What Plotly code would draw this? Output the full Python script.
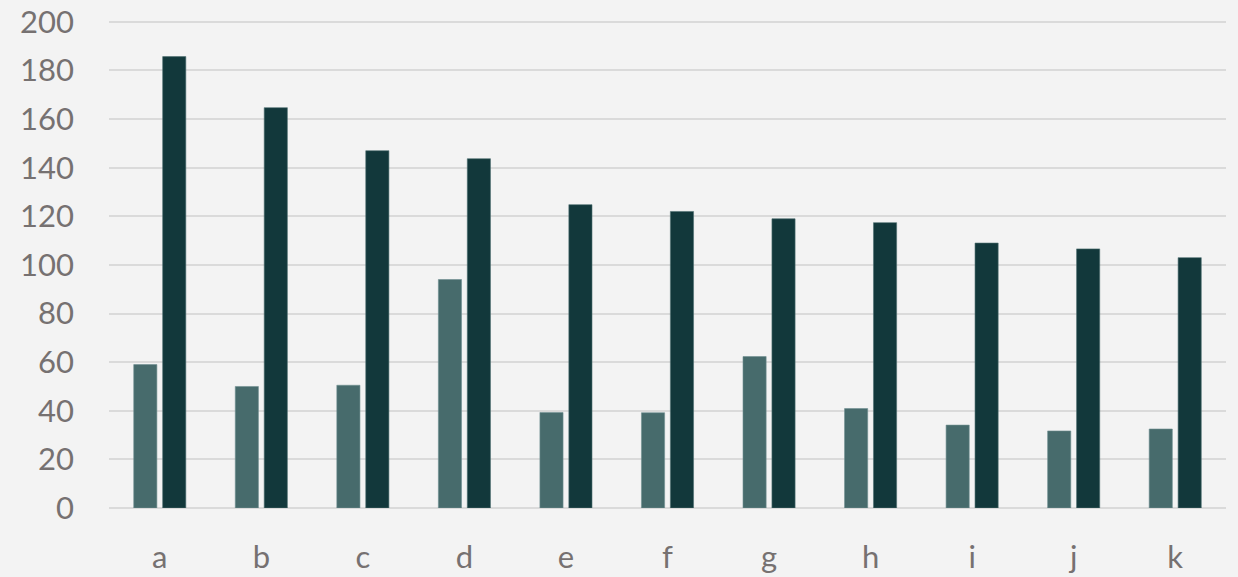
import plotly.graph_objects as go

categories = ["a", "b", "c", "d", "e", "f", "g", "h", "i", "j", "k"]
series_light = [59, 50, 50.5, 94, 39.3, 39.2, 62.3, 40.9, 34.1, 31.7, 32.5]
series_dark = [185.7, 164.7, 147, 143.7, 124.8, 122, 119, 117.4, 109, 106.6, 103]
y_ticks = [0, 20, 40, 60, 80, 100, 120, 140, 160, 180, 200]

LIGHT = "#476b6c"
DARK = "#12383b"
GRID = "#dadada"
TEXT = "#767171"

fig = go.Figure()
fig.add_trace(go.Bar(x=categories, y=series_light, name="Series 1",
                     marker=dict(color=LIGHT, line=dict(color="#6f8f90", width=0.6))))
fig.add_trace(go.Bar(x=categories, y=series_dark, name="Series 2",
                     marker=dict(color=DARK, line=dict(color="#4d6f71", width=0.6))))

fig.update_layout(
    width=1238, height=577,
    margin=dict(l=109, r=12, t=17, b=69),
    paper_bgcolor="#f3f3f3",
    plot_bgcolor="rgba(0,0,0,0)",
    barmode="group",
    bargap=0.43,
    bargroupgap=0.2,
    showlegend=False,
    font=dict(family="Lato, 'Open Sans', sans-serif", size=31, color=TEXT),
)
fig.update_yaxes(
    range=[0, 202], tickvals=y_ticks, showgrid=True, gridcolor=GRID, gridwidth=2,
    zeroline=True, zerolinecolor=GRID, zerolinewidth=2, showline=False,
    ticks="", ticklabelstandoff=34, automargin=False,
    tickfont=dict(size=31, color=TEXT),
)
fig.update_xaxes(
    showgrid=False, showline=False, ticks="", ticklabelstandoff=28, automargin=False,
    tickfont=dict(size=31, color=TEXT),
)

fig.write_html("out.html")
